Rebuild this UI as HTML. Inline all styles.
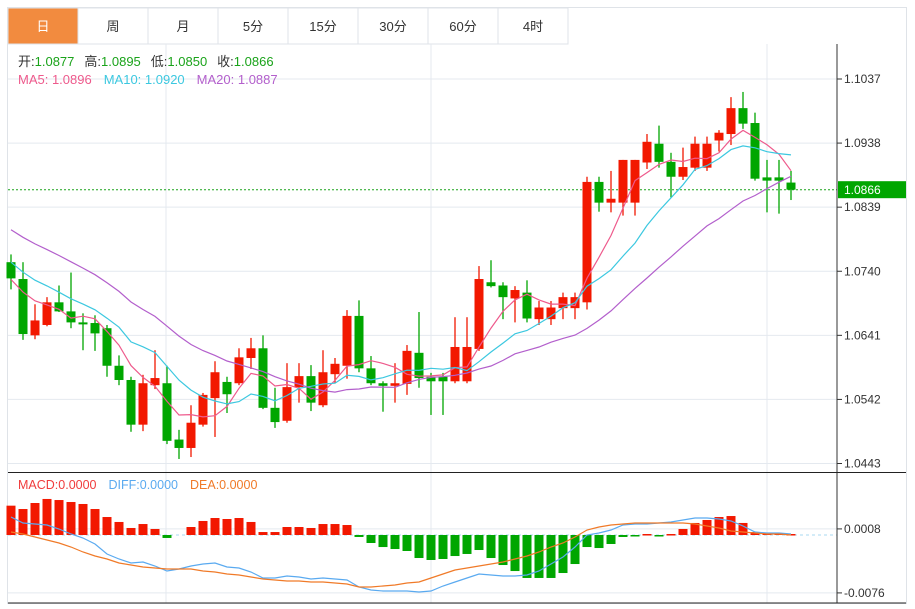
<!DOCTYPE html>
<html><head><meta charset="utf-8"><style>
body{margin:0;background:#fff;}
svg text{font-family:"Liberation Sans","Noto Sans CJK SC",sans-serif;}
</style></head><body>
<svg id="c" width="915" height="604" xmlns="http://www.w3.org/2000/svg">
<rect x="7.5" y="7.5" width="899" height="596" fill="#fff" stroke="#dfe3e8"/>
<g id="tabs"></g>
<g id="grid"></g>
<g id="marks"></g>
<g id="axes"></g>
<g font-size="13">
<text x="18" y="66"><tspan fill="#333">开:</tspan><tspan fill="#1aa31a">1.0877</tspan><tspan fill="#333" dx="10">高:</tspan><tspan fill="#1aa31a">1.0895</tspan><tspan fill="#333" dx="10">低:</tspan><tspan fill="#1aa31a">1.0850</tspan><tspan fill="#333" dx="10">收:</tspan><tspan fill="#1aa31a">1.0866</tspan></text>
<text x="18" y="84"><tspan fill="#ee5a8c">MA5: 1.0896</tspan><tspan fill="#3cc8e0" dx="12">MA10: 1.0920</tspan><tspan fill="#b35fcc" dx="12">MA20: 1.0887</tspan></text>
</g>
<g font-size="12.5">
<text x="18" y="489"><tspan fill="#f03c3c">MACD:0.0000</tspan><tspan fill="#5aaaf0" dx="12">DIFF:0.0000</tspan><tspan fill="#f07a28" dx="12">DEA:0.0000</tspan></text>
</g>
</svg>
<script>
const tabLabels=["日","周","月","5分","15分","30分","60分","4时"];
const priceTicks=[1.1037,1.0938,1.0839,1.0740,1.0641,1.0542,1.0443];
const macdTicks=[0.0008,-0.0076];
const lastPrice=1.0866;
const histCloses=[1.0874,1.0869,1.0866,1.0861,1.0857,1.0852,1.0848,1.0843,1.0838,1.0832,1.0797,1.0789,1.0780,1.0774,1.0764,1.0740,1.0731,1.0724,1.0712];
const opens=[1.0754,1.0728,1.0641,1.0657,1.0692,1.0678,1.0661,1.0660,1.0652,1.0594,1.0572,1.0503,1.0564,1.0567,1.0480,1.0467,1.0503,1.0544,1.0569,1.0567,1.0606,1.0621,1.0529,1.0509,1.0561,1.0578,1.0533,1.0581,1.0594,1.0671,1.0590,1.0567,1.0563,1.0566,1.0614,1.0577,1.0577,1.0570,1.0570,1.0620,1.0723,1.0718,1.0698,1.0707,1.0666,1.0666,1.0683,1.0683,1.0692,1.0878,1.0846,1.0846,1.0846,1.0908,1.0937,1.0909,1.0886,1.0900,1.0900,1.0942,1.0952,1.0992,1.0969,1.0885,1.0885,1.0877];
const highs=[1.0766,1.0754,1.0689,1.0700,1.0718,1.0738,1.0675,1.0672,1.0657,1.0610,1.0577,1.0580,1.0618,1.0594,1.0495,1.0533,1.0552,1.0601,1.0577,1.0621,1.0637,1.0641,1.0560,1.0598,1.0598,1.0595,1.0618,1.0606,1.0680,1.0695,1.0609,1.0570,1.0598,1.0626,1.0677,1.0583,1.0583,1.0669,1.0669,1.0748,1.0757,1.0723,1.0717,1.0726,1.0694,1.0694,1.0707,1.0707,1.0886,1.0886,1.0895,1.0912,1.0912,1.0952,1.0965,1.0923,1.0931,1.0948,1.0948,1.0958,1.1009,1.1017,1.0985,1.0912,1.0912,1.0895];
const lows=[1.0712,1.0634,1.0635,1.0655,1.0677,1.0652,1.0618,1.0617,1.0577,1.0564,1.0492,1.0493,1.0558,1.0473,1.0450,1.0453,1.0500,1.0484,1.0521,1.0564,1.0589,1.0527,1.0498,1.0506,1.0537,1.0524,1.0530,1.0567,1.0574,1.0584,1.0564,1.0523,1.0537,1.0549,1.0560,1.0518,1.0518,1.0567,1.0567,1.0617,1.0715,1.0666,1.0661,1.0661,1.0657,1.0657,1.0666,1.0666,1.0681,1.0832,1.0831,1.0826,1.0826,1.0898,1.0900,1.0854,1.0881,1.0895,1.0895,1.0925,1.0935,1.0960,1.0880,1.0831,1.0829,1.0850];
const closes=[1.0729,1.0643,1.0664,1.0692,1.0678,1.0661,1.0658,1.0644,1.0594,1.0572,1.0503,1.0567,1.0575,1.0478,1.0467,1.0506,1.0549,1.0584,1.0550,1.0607,1.0621,1.0529,1.0507,1.0561,1.0578,1.0537,1.0584,1.0597,1.0671,1.0590,1.0567,1.0563,1.0567,1.0617,1.0575,1.0570,1.0570,1.0623,1.0623,1.0728,1.0717,1.0700,1.0711,1.0667,1.0684,1.0684,1.0700,1.0700,1.0878,1.0846,1.0852,1.0912,1.0912,1.0940,1.0909,1.0886,1.0901,1.0937,1.0937,1.0954,1.0992,1.0968,1.0883,1.0880,1.0880,1.0866];
const macdHist=[0.00385,0.00341,0.0042,0.00473,0.00459,0.00433,0.00407,0.00341,0.00236,0.00171,0.00092,0.00144,0.00079,-0.00039,0,0.00105,0.00184,0.00223,0.0021,0.00223,0.00171,0.00039,0.00039,0.00105,0.00105,0.00092,0.00144,0.00144,0.00131,-0.00026,-0.00105,-0.00158,-0.00184,-0.0021,-0.00302,-0.00328,-0.00315,-0.00276,-0.00249,-0.00197,-0.00302,-0.00394,-0.00473,-0.00564,-0.00564,-0.00564,-0.00499,-0.00381,-0.00158,-0.00171,-0.00118,-0.00026,-0.00013,0.00013,-0.00013,0.00013,0.00079,0.00158,0.00197,0.00236,0.00249,0.00158,0.00039,0.00033,0.00026,0.00013];
const diff=[0.00236,0.00158,0.00144,0.00131,0.00079,0.00013,-0.00039,-0.00118,-0.00249,-0.00315,-0.00368,-0.00354,-0.00407,-0.00473,-0.00446,-0.00407,-0.00381,-0.00368,-0.0042,-0.00433,-0.00486,-0.00564,-0.00564,-0.00538,-0.00551,-0.00578,-0.00564,-0.00578,-0.00591,-0.00683,-0.00722,-0.00735,-0.00735,-0.00735,-0.00748,-0.00735,-0.00669,-0.00617,-0.00564,-0.00512,-0.00525,-0.00538,-0.00538,-0.00525,-0.00473,-0.00381,-0.00289,-0.00158,0,0.00026,0.00066,0.00131,0.00144,0.00144,0.00158,0.00171,0.00197,0.00223,0.00223,0.0021,0.00184,0.00118,0.00039,0.00026,0.00026,0.00013];
const dea=[0.00039,0.00013,-0.00026,-0.00066,-0.00105,-0.00158,-0.00223,-0.00276,-0.00315,-0.00368,-0.00394,-0.0042,-0.00433,-0.00446,-0.00446,-0.00446,-0.00473,-0.00486,-0.00512,-0.00525,-0.00551,-0.00578,-0.00591,-0.00604,-0.00604,-0.00617,-0.00617,-0.0063,-0.00643,-0.00683,-0.00683,-0.00669,-0.00656,-0.0063,-0.00617,-0.00564,-0.00512,-0.00459,-0.00433,-0.00407,-0.00381,-0.00354,-0.00315,-0.00276,-0.00223,-0.00158,-0.00105,-0.00026,0.00066,0.00105,0.00131,0.00144,0.00158,0.00158,0.00158,0.00158,0.00158,0.00144,0.00118,0.00092,0.00053,0.00039,0.00026,0.00013,0.00013,0];

const NS="http://www.w3.org/2000/svg";
function mk(p,tag,at){const e=document.createElementNS(NS,tag);for(const k in at)e.setAttribute(k,at[k]);p.appendChild(e);return e;}
const X0=8,XR=837;
const xOf=i=>11+12*i;
const yP=p=>79+(1.1037-p)*(384.5/0.0594);
const yM=v=>535-v/0.00013125;
const RED="#f21800",GREEN="#00a600";

const tabs=document.getElementById('tabs');
tabLabels.forEach((t,i)=>{
  const g=mk(tabs,'g',{});
  
  
  mk(g,'rect',{x:8+70*i,y:8,width:70,height:36,fill:i===0?'#f28b3f':'#fff',stroke:'#dfe3e8'});
  const tx=mk(g,'text',{x:43+70*i,y:31,'text-anchor':'middle','font-size':13,fill:i===0?'#fff':'#333'});
  tx.textContent=t;
});

const grid=document.getElementById('grid');
priceTicks.forEach(p=>{const l=mk(grid,'line',{x1:X0,x2:XR,y1:yP(p),y2:yP(p),stroke:'#e4e9ef'});});
macdTicks.forEach(v=>{const l=mk(grid,'line',{x1:X0,x2:XR,y1:yM(v),y2:yM(v),stroke:'#e4e9ef'});});
[166,431,767].forEach(x=>{const l=mk(grid,'line',{x1:x,x2:x,y1:44,y2:603,stroke:'#e4e9ef'});});

const marks=document.getElementById('marks');
const lp=mk(marks,'line',{x1:X0,x2:XR,y1:yP(lastPrice),y2:yP(lastPrice),stroke:'#1aa31a','stroke-dasharray':'2,2'});


opens.forEach((o,i)=>{
  const c=closes[i],up=c>=o,col=up?RED:GREEN,x=xOf(i);
  const g=mk(marks,'g',{});
  
  
  mk(g,'line',{x1:x,x2:x,y1:yP(highs[i]),y2:yP(lows[i]),stroke:col,'stroke-width':1.3});
  const t=Math.min(yP(o),yP(c)),h=Math.max(2,Math.abs(yP(o)-yP(c)));
  mk(g,'rect',{x:x-4.5,y:t,width:9,height:h,fill:col});
});

const all=histCloses.concat(closes);
function ma(n){return closes.map((_,i)=>{const e=i+histCloses.length;let s=0;for(let k=e-n+1;k<=e;k++)s+=all[k];return s/n;});}
[[5,'#ee5a8c','ma5-line'],[10,'#3cc8e0','ma10-line'],[20,'#b35fcc','ma20-line']].forEach(([n,col,name])=>{
  const v=ma(n);
  const pl=mk(marks,'polyline',{points:v.map((p,i)=>xOf(i)+','+yP(p).toFixed(1)).join(' '),fill:'none',stroke:col,'stroke-width':1.2});
  
});
const z=mk(marks,'line',{x1:X0,x2:XR,y1:yM(0),y2:yM(0),stroke:'#a9d9f0','stroke-dasharray':'3,3'});

macdHist.forEach((v,i)=>{
  if(v===0)return;
  const y0=yM(0),y1=yM(v);
  const r=mk(marks,'rect',{x:xOf(i)-4.5,y:Math.min(y0,y1),width:9,height:Math.max(1.5,Math.abs(y1-y0)),fill:v>0?RED:GREEN});
  
});
[[diff,'#5aaaf0','diff-line'],[dea,'#f07a28','dea-line']].forEach(([arr,col,name])=>{
  const pl=mk(marks,'polyline',{points:arr.map((v,i)=>xOf(i)+','+yM(v).toFixed(1)).join(' '),fill:'none',stroke:col,'stroke-width':1.2});
  
});

const axes=document.getElementById('axes');
mk(axes,'line',{x1:XR,x2:XR,y1:44,y2:603,stroke:'#333'});
mk(axes,'line',{x1:X0,x2:906,y1:472.5,y2:472.5,stroke:'#222'});
mk(axes,'line',{x1:X0,x2:906,y1:603,y2:603,stroke:'#222'});
priceTicks.forEach(p=>{
  const y=yP(p);
  mk(axes,'line',{x1:XR,x2:XR+5,y1:y,y2:y,stroke:'#333'});
  const t=mk(axes,'text',{x:XR+7,y:y+4,'font-size':12,fill:'#333'});
  t.textContent=p.toFixed(4);
  
});
macdTicks.forEach(v=>{
  const y=yM(v);
  mk(axes,'line',{x1:XR,x2:XR+5,y1:y,y2:y,stroke:'#333'});
  const t=mk(axes,'text',{x:XR+7,y:y+4,'font-size':12,fill:'#333'});
  t.textContent=v.toFixed(4);
  
});
const ly=yP(lastPrice);
const lb=mk(axes,'rect',{x:XR+1,y:ly-8.5,width:68,height:17,fill:'#00a600'});

const lt=mk(axes,'text',{x:XR+7,y:ly+4.5,'font-size':12,fill:'#fff'});
lt.textContent=lastPrice.toFixed(4);

</script>
</body></html>
